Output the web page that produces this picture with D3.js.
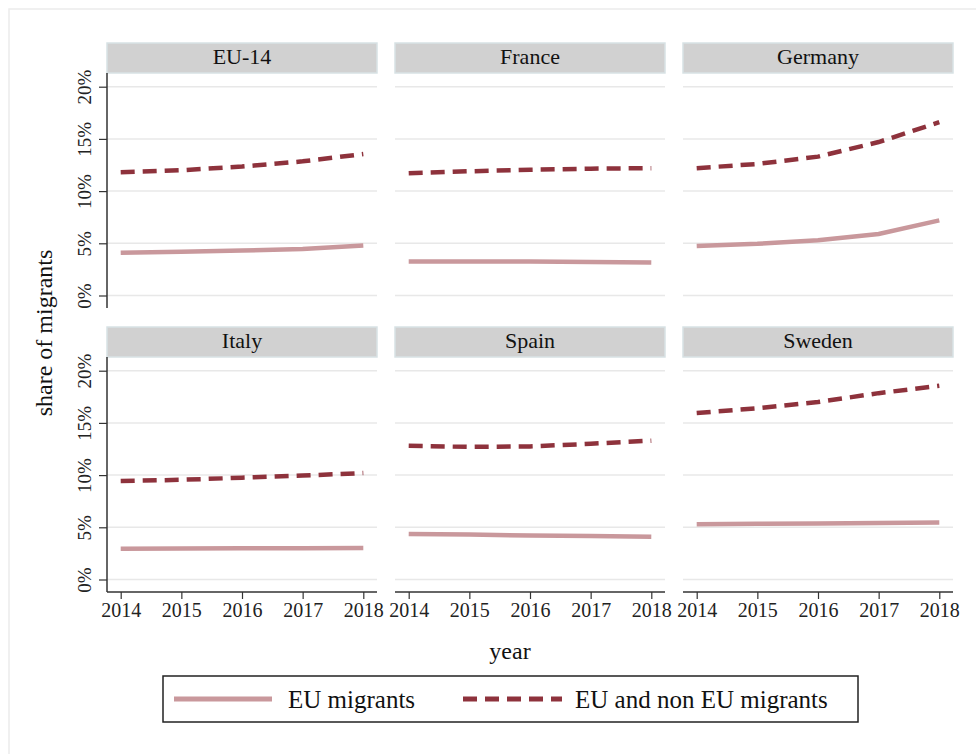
<!DOCTYPE html>
<html><head><meta charset="utf-8">
<script src="https://cdn.jsdelivr.net/npm/d3@7"></script>
<style>body{margin:0;background:#fff}svg{display:block}</style>
</head><body><svg id="c" width="976" height="754"></svg>
<script>
const years = [2014, 2015, 2016, 2017, 2018];
const countries = ["EU-14", "France", "Germany", "Italy", "Spain", "Sweden"];
const euMigrants = {
  "EU-14":   [4.1, 4.2, 4.3, 4.45, 4.8],
  "France":  [3.25, 3.25, 3.25, 3.22, 3.15],
  "Germany": [4.75, 4.95, 5.3, 5.9, 7.2],
  "Italy":   [2.95, 2.97, 3.0, 3.0, 3.02],
  "Spain":   [4.37, 4.3, 4.22, 4.17, 4.1],
  "Sweden":  [5.29, 5.33, 5.37, 5.41, 5.45]
};
const allMigrants = {
  "EU-14":   [11.8, 12.0, 12.35, 12.85, 13.55],
  "France":  [11.7, 11.9, 12.05, 12.15, 12.2],
  "Germany": [12.2, 12.6, 13.3, 14.7, 16.6],
  "Italy":   [9.43, 9.55, 9.75, 9.95, 10.2],
  "Spain":   [12.8, 12.7, 12.75, 13.0, 13.3],
  "Sweden":  [15.94, 16.4, 17.0, 17.85, 18.55]
};
const yTicks = [0, 5, 10, 15, 20];
const seriesNames = ["EU migrants", "EU and non EU migrants"];

const svg = d3.select("#c");
const cLight = "#c9989c", cDark = "#8e323c";
const serif = "'Liberation Serif', 'DejaVu Serif', serif";

// outer frame
svg.append("rect").attr("x", 9).attr("y", 9).attr("width", 990).attr("height", 760)
  .attr("fill", "#fff").attr("stroke", "#ececec").attr("stroke-width", 1.5);

const panelLefts = [107, 395, 683], panelW = 270;
const stripTops = [43, 327], stripH = 30;
const plotTops = [73, 357], plotH = 235;

countries.forEach((c, i) => {
  const col = i % 3, row = Math.floor(i / 3);
  const L = panelLefts[col], T = plotTops[row];
  const x = d3.scaleLinear().domain([2014, 2018]).range([L + 13.7, L + panelW - 13.7]);
  const y = d3.scaleLinear().domain([0, 20]).range([T + plotH - 12.5, T + 13.7]);
  const g = svg.append("g");
  // strip
  g.append("rect").attr("x", L).attr("y", stripTops[row]).attr("width", panelW).attr("height", stripH)
    .attr("fill", "#d1d1d1").attr("stroke", "#d8e2e5").attr("stroke-width", 1.5);
  g.append("text").attr("x", L + panelW / 2).attr("y", stripTops[row] + 21).attr("text-anchor", "middle")
    .style("font-family", serif).style("font-size", "22px").attr("fill", "#111").text(c);
  // gridlines
  g.selectAll("line.grid").data(yTicks).join("line").attr("class", "grid")
    .attr("x1", L).attr("x2", L + panelW).attr("y1", d => y(d)).attr("y2", d => y(d))
    .attr("stroke", "#e8e8e8").attr("stroke-width", 1.5);
  // y axis for first column
  if (col === 0) {
    const ax = g.append("g").attr("transform", `translate(${L},0)`)
      .call(d3.axisLeft(y).tickValues(yTicks).tickSize(8).tickPadding(4).tickFormat(d => d + "%"));
    ax.attr("font-family", null);
    ax.select(".domain").attr("d", `M0,${T}V${T + plotH}`).attr("stroke", "#333").attr("stroke-width", 1.5);
    ax.selectAll(".tick line").attr("stroke", "#333").attr("stroke-width", 1.2);
    ax.selectAll(".tick text").attr("x", null).attr("dy", null).attr("text-anchor", "middle")
      .attr("transform", "translate(-16,0) rotate(-90)")
      .style("font-size", "19px").style("font-family", serif).attr("fill", "#222");
  }
  // x axis for bottom row
  if (row === 1) {
    const ax = g.append("g").attr("transform", `translate(0,${T + plotH})`)
      .call(d3.axisBottom(x).tickValues(years).tickSize(7).tickPadding(4).tickFormat(d3.format("d")));
    ax.attr("font-family", null);
    ax.select(".domain").attr("d", `M${L},0H${L + panelW}`).attr("stroke", "#333").attr("stroke-width", 1.5);
    ax.selectAll(".tick line").attr("stroke", "#333").attr("stroke-width", 1.2);
    ax.selectAll(".tick text").style("font-size", "20px").style("font-family", serif).attr("fill", "#222");
  }
  const line = d3.line().x((d, k) => x(years[k])).y(d => y(d));
  g.append("path").datum(euMigrants[c]).attr("d", line).attr("fill", "none")
    .attr("stroke", cLight).attr("stroke-width", 4.5);
  g.append("path").datum(allMigrants[c]).attr("d", line).attr("fill", "none")
    .attr("stroke", cDark).attr("stroke-width", 4.5).attr("stroke-dasharray", "14,8");
});

// axis titles
svg.append("text").attr("transform", "translate(52,333) rotate(-90)").attr("text-anchor", "middle")
  .style("font-family", serif).style("font-size", "24px").attr("fill", "#111").text("share of migrants");
svg.append("text").attr("x", 510).attr("y", 659).attr("text-anchor", "middle")
  .style("font-family", serif).style("font-size", "24px").attr("fill", "#111").text("year");

// legend
const lg = svg.append("g");
lg.append("rect").attr("x", 163).attr("y", 676).attr("width", 695).attr("height", 46)
  .attr("fill", "#fff").attr("stroke", "#222").attr("stroke-width", 1.5);
const legendItems = [
  { name: seriesNames[0], color: cLight, dash: null, x1: 174, x2: 272, tx: 288 },
  { name: seriesNames[1], color: cDark, dash: "14,8", x1: 463, x2: 562, tx: 575 }
];
legendItems.forEach(it => {
  lg.append("line").attr("x1", it.x1).attr("x2", it.x2).attr("y1", 699).attr("y2", 699)
    .attr("stroke", it.color).attr("stroke-width", 5).attr("stroke-dasharray", it.dash);
  lg.append("text").attr("x", it.tx).attr("y", 708)
    .style("font-family", serif).style("font-size", "25px").attr("fill", "#111").text(it.name);
});
</script></body></html>
